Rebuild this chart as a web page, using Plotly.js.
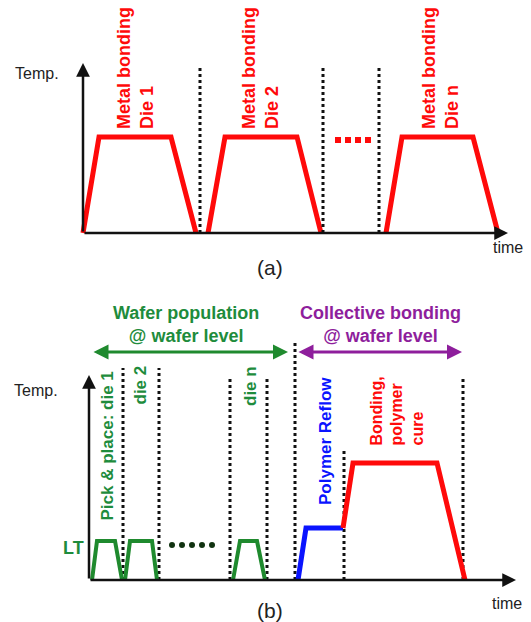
<!DOCTYPE html>
<html>
<head>
<meta charset="utf-8">
<script src="https://cdn.plot.ly/plotly-3.0.1.min.js"></script>
<style>body{margin:0;background:#fff}#chart{width:531px;height:622px}</style>
</head>
<body>
<div id="chart"></div>
<script>
// ---------- Panel (a): sequential metal bonding, die by die ----------
const aProfileTime = [[0, 16, 88, 113], [125, 142, 214, 238], [303, 319, 390, 415]];
const aProfileTemp = [0, 96, 96, 0];
const aDividerTime = [117, 240, 296];
const aDividerTop = 166;
const aDotsTime = [255, 265, 275, 285];
const aDotsTemp = [93, 93, 93, 93];
const aLabels = ['Metal bonding<br>Die 1', 'Metal bonding<br>Die 2', 'Metal bonding<br>Die n'];
const aLabelTime = [52, 177, 357];
const aLabelTemp = 102;
const aAxisEnd = {time: 425, temp: 170};

// ---------- Panel (b): wafer population + collective bonding ----------
const bPlaceTime = [[3, 8, 26, 33], [36, 41, 63, 68], [144, 151, 168, 176]];
const bPlaceTemp = [0, 39, 39, 0];
const bDotsTime = [83, 93, 103, 113, 123];
const bDotsTemp = [35, 35, 35, 35, 35];
const bReflowTime = [209, 217, 254];
const bReflowTemp = [0, 52, 52];
const bBondTime = [254, 264, 348, 376];
const bBondTemp = [52, 117, 117, 0];
const bDividerTime = [34, 70, 141, 178, 206, 255, 374];
const bDividerTop = [212, 212, 202, 202, 237, 132, 202];
const bAxisEnd = {time: 427, temp: 205};
const bPhaseLabels = ['Wafer population<br>@ wafer level', 'Collective bonding<br>@ wafer level'];
const bPhaseTime = [[3, 199], [208, 373]];
const bPhaseLabelTime = [97, 291];
const bPhaseArrowTemp = 228;
const bStepLabels = ['Pick & place: die 1', 'die 2', 'die n', 'Polymer Reflow', 'Bonding,<br>polymer<br>cure'];
const bStepTime = [18, 51, 161, 236, 308];
const bStepBottom = [57, 173, 172, 73, 132];

const RED = '#ff0a0a', GREEN = '#1f8a2e', BLUE = '#0a14ff', PURPLE = '#8e1e9c';
const GREEN_TXT = '#1e8c3c';
const BOLD = 'Liberation Sans, Arial, sans-serif';
const REG = 'Liberation Sans, Arial, sans-serif';

const traces = [];
aProfileTime.forEach(t => traces.push({x: t, y: aProfileTemp, xaxis: 'x', yaxis: 'y', mode: 'lines',
  line: {color: RED, width: 5}, hoverinfo: 'skip'}));
aDividerTime.forEach(t => traces.push({x: [t, t], y: [0, aDividerTop], xaxis: 'x', yaxis: 'y', mode: 'lines',
  line: {color: '#111', width: 3, dash: 'dot'}, hoverinfo: 'skip'}));
traces.push({x: aDotsTime, y: aDotsTemp, xaxis: 'x', yaxis: 'y', mode: 'markers',
  marker: {color: RED, size: 6, symbol: 'square'}, hoverinfo: 'skip'});

bDividerTime.forEach((t, i) => traces.push({x: [t, t], y: [0, bDividerTop[i]], xaxis: 'x2', yaxis: 'y2', mode: 'lines',
  line: {color: '#111', width: 3, dash: 'dot'}, hoverinfo: 'skip'}));
bPlaceTime.forEach(t => traces.push({x: t, y: bPlaceTemp, xaxis: 'x2', yaxis: 'y2', mode: 'lines',
  line: {color: GREEN, width: 4}, hoverinfo: 'skip'}));
traces.push({x: bDotsTime, y: bDotsTemp, xaxis: 'x2', yaxis: 'y2', mode: 'markers',
  marker: {color: '#113311', size: 6, symbol: 'circle'}, hoverinfo: 'skip'});
traces.push({x: bReflowTime, y: bReflowTemp, xaxis: 'x2', yaxis: 'y2', mode: 'lines',
  line: {color: BLUE, width: 5}, hoverinfo: 'skip'});
traces.push({x: bBondTime, y: bBondTemp, xaxis: 'x2', yaxis: 'y2', mode: 'lines',
  line: {color: RED, width: 5}, hoverinfo: 'skip'});

const ann = [];
function axisArrows(xr, yr, end) {
  ann.push({xref: xr, yref: yr, axref: xr, ayref: yr, x: end.time, y: 0, ax: 0, ay: 0, text: '',
    showarrow: true, arrowhead: 2, arrowsize: 1.1, arrowwidth: 2.5, arrowcolor: '#111', standoff: 0, startstandoff: 0});
  ann.push({xref: xr, yref: yr, axref: xr, ayref: yr, x: 0, y: end.temp, ax: 0, ay: 0, text: '',
    showarrow: true, arrowhead: 2, arrowsize: 1.1, arrowwidth: 2.5, arrowcolor: '#111', standoff: 0, startstandoff: 0});
}
axisArrows('x', 'y', aAxisEnd);
axisArrows('x2', 'y2', bAxisEnd);

function txt(xr, yr, x, y, text, size, color, extra) {
  ann.push(Object.assign({xref: xr, yref: yr, x: x, y: y, text: text, showarrow: false,
    font: {family: REG, size: size, color: color}}, extra || {}));
}
// axis labels panel a
txt('x', 'y', -46, 160, 'Temp.', 16, '#222');
txt('x', 'y', 425, -14, 'time', 16, '#222');
txt('x', 'y', 187, -34, '(a)', 21, '#222');
aLabels.forEach((l, i) => txt('x', 'y', aLabelTime[i], aLabelTemp, '<b>' + l + '</b>', 18, RED,
  {textangle: -90, align: 'left', xanchor: 'center', yanchor: 'bottom', font: {family: BOLD, size: 18, color: RED}}));

// panel b
txt('x2', 'y2', -53, 190, 'Temp.', 16, '#222');
txt('x2', 'y2', 418, -23, 'time', 16, '#222');
txt('x2', 'y2', 181, -30, '(b)', 21, '#222');
txt('x2', 'y2', -16, 32, '<b>LT</b>', 18, GREEN_TXT);
bPhaseLabels.forEach((l, i) => txt('x2', 'y2', bPhaseLabelTime[i], 256, '<b>' + l + '</b>', 18,
  i === 0 ? GREEN_TXT : PURPLE));
bPhaseTime.forEach((p, i) => ann.push({xref: 'x2', yref: 'y2', axref: 'x2', ayref: 'y2',
  x: p[1], y: bPhaseArrowTemp, ax: p[0], ay: bPhaseArrowTemp, text: '', showarrow: true,
  arrowhead: 2, startarrowhead: 2, arrowside: 'end+start', arrowsize: 1, arrowwidth: 3,
  arrowcolor: i === 0 ? GREEN : PURPLE, standoff: 0, startstandoff: 0}));
const stepColors = [GREEN_TXT, GREEN_TXT, GREEN_TXT, BLUE, RED];
const stepSizes = [17, 17, 17, 17, 16];
bStepLabels.forEach((l, i) => txt('x2', 'y2', bStepTime[i], bStepBottom[i], '<b>' + l + '</b>', stepSizes[i], stepColors[i],
  {textangle: -90, align: 'left', xanchor: 'center', yanchor: 'bottom'}));

const hidden = {visible: false, fixedrange: true};
const layout = {
  width: 531, height: 622,
  margin: {l: 0, r: 0, t: 0, b: 0},
  paper_bgcolor: '#fff', plot_bgcolor: '#fff',
  showlegend: false,
  xaxis: Object.assign({domain: [0, 1], range: [-83, 448], anchor: 'y'}, hidden),
  yaxis: Object.assign({domain: [322 / 622, 1], range: [-67, 233], anchor: 'x'}, hidden),
  xaxis2: Object.assign({domain: [0, 1], range: [-89, 442], anchor: 'y2'}, hidden),
  yaxis2: Object.assign({domain: [0, 322 / 622], range: [-42, 280], anchor: 'x2'}, hidden),
  annotations: ann
};
Plotly.newPlot('chart', traces, layout, {displayModeBar: false, staticPlot: true});
</script>
</body>
</html>
